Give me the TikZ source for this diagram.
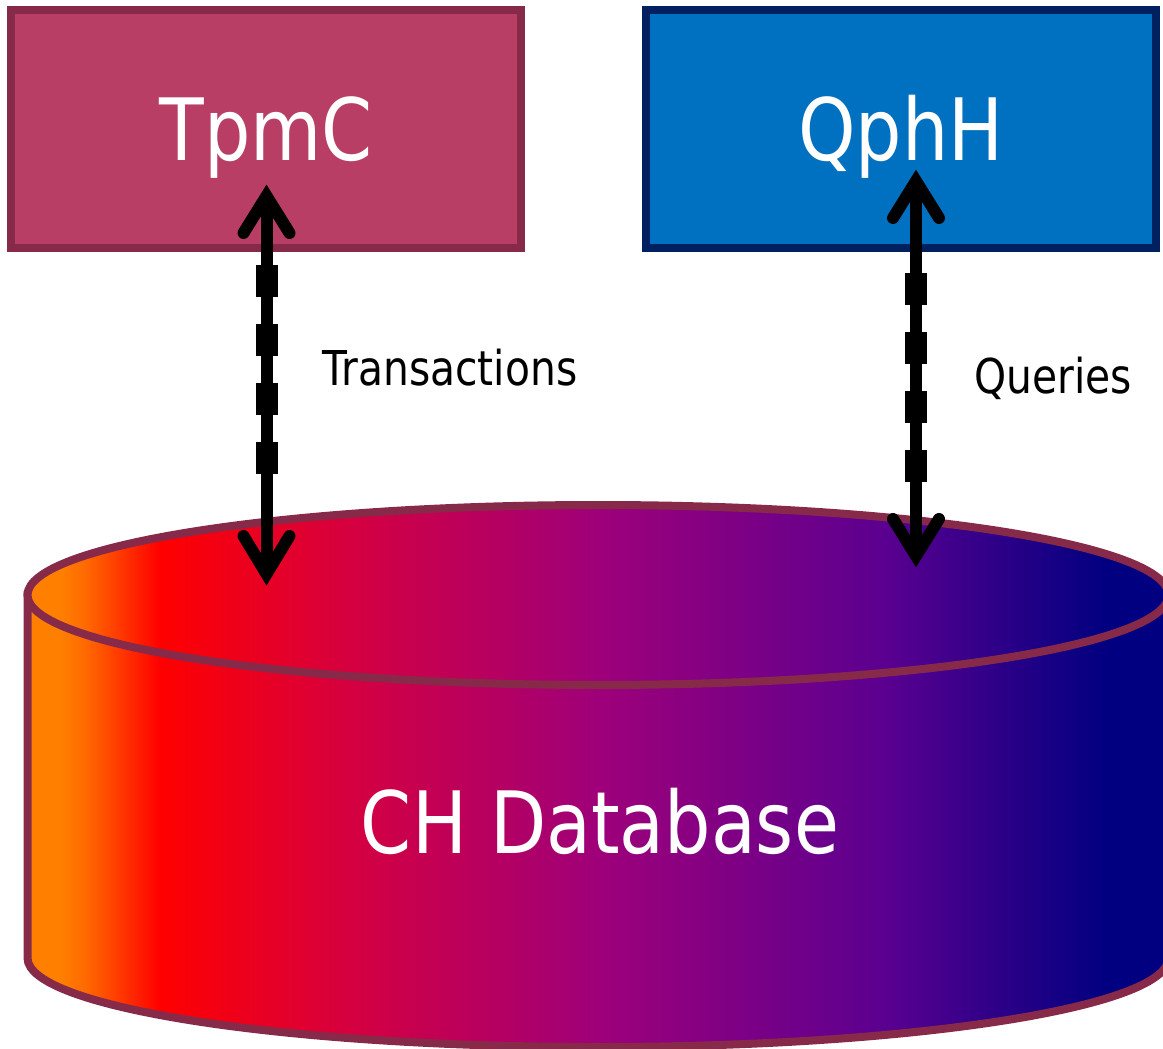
\documentclass[tikz,border=0pt]{standalone}
\usepackage{fontspec}
\setmainfont{DejaVu Sans}[FakeStretch=0.85]
\usetikzlibrary{calc}

\definecolor{tpmcfill}{HTML}{B93E66}
\definecolor{rimcol}{HTML}{872A49}
\definecolor{qphfill}{HTML}{0070C0}
\definecolor{qphrim}{HTML}{002060}
\definecolor{gA}{HTML}{FF8000}
\definecolor{gA2}{HTML}{FF6A00}
\definecolor{gB}{HTML}{FF0000}
\definecolor{gC}{HTML}{D50040}
\definecolor{gD}{HTML}{9E007A}
\definecolor{gE}{HTML}{5C0090}
\definecolor{gF}{HTML}{000080}

% left-to-right colour ramp of the database cylinder
\pgfdeclarehorizontalshading{dbramp}{100bp}{%
  color(0bp)=(gA); color(25bp)=(gA); color(26.4bp)=(gA); color(27.5bp)=(gA2);
  color(30.8bp)=(gB); color(39.1bp)=(gC);
  color(50.1bp)=(gD); color(62.4bp)=(gE); color(72.4bp)=(gF);
  color(75bp)=(gF); color(100bp)=(gF)}

\tikzset{
  metricbox/.style={draw, line width=8pt, inner sep=0pt,
    minimum width=510pt, minimum height=237pt,
    text=white, font=\fontsize{86}{100}\selectfont,
    text height=63pt, text depth=0pt},
  dbbody/.style={shading=dbramp, draw=rimcol, line width=8pt},
  shaft/.style={line width=12pt, black},
  dashbar/.style={line width=22pt, black, dash pattern=on 32pt off 27pt},
  barb/.style={line width=12pt, black, line cap=round, line join=miter},
  flowlabel/.style={font=\fontsize{48}{56}\selectfont, inner sep=0pt, anchor=base},
  dbtext/.style={text=white, font=\fontsize{86}{100}\selectfont, inner sep=0pt, anchor=base}
}

\begin{document}
\begin{tikzpicture}[x=1pt, y=-1pt]
\useasboundingbox (0,0) rectangle (1163,1049);
\clip (0,0) rectangle (1163,1049);

% the two benchmark metrics
\node[metricbox, fill=tpmcfill, draw=rimcol] (tpmc) at (266,129) {TpmC};
\node[metricbox, fill=qphfill, draw=qphrim] (qphh) at (901,129) {QphH};

% database cylinder: body, then the top lid
\path[dbbody] (27.5,595) -- (27.5,958)
  arc[start angle=180, end angle=360, x radius=570.5pt, y radius=89pt]
  -- (1168.5,595) -- cycle;
\path[dbbody] (598,595) ellipse [x radius=570.5pt, y radius=90pt];
\node[dbtext] (db) at (600,853) {CH Database};

% transaction flow
\coordinate (tA) at (266.5,196);
\coordinate (bA) at (266.5,574);
\coordinate (dA1) at (266.5,265);
\coordinate (dA2) at (266.5,475);
\draw[shaft] (tA) -- (bA);
\draw[dashbar] (dA1) -- (dA2);
\draw[barb] ($(tA)+(-23,37)$) -- (tA) -- ($(tA)+(23,37)$);
\draw[barb] ($(bA)+(-23,-38)$) -- (bA) -- ($(bA)+(23,-38)$);
\node[flowlabel] (trans) at (450,385) {Transactions};

% query flow
\coordinate (tB) at (916,181);
\coordinate (bB) at (916,556);
\coordinate (dB1) at (916,273);
\coordinate (dB2) at (916,483);
\draw[shaft] (tB) -- (bB);
\draw[dashbar] (dB1) -- (dB2);
\draw[barb] ($(tB)+(-23,37)$) -- (tB) -- ($(tB)+(23,37)$);
\draw[barb] ($(bB)+(-23,-37)$) -- (bB) -- ($(bB)+(23,-37)$);
\node[flowlabel] (qry) at (1053,393) {Queries};
\end{tikzpicture}
\end{document}
